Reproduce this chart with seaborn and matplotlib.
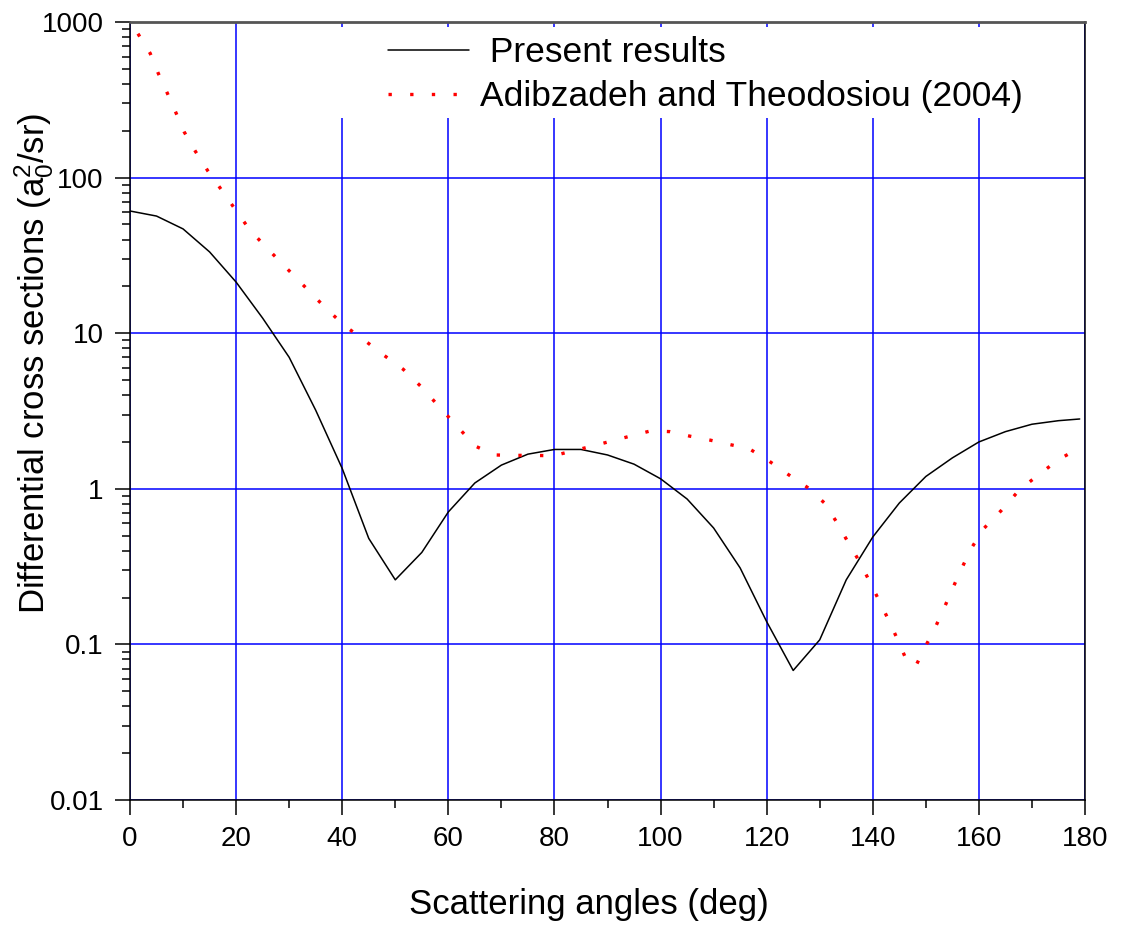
import numpy as np
import pandas as pd
import matplotlib
matplotlib.use("Agg")
import matplotlib.pyplot as plt
import seaborn as sns
from matplotlib.patches import Rectangle
from matplotlib.ticker import FixedLocator, LogLocator, NullFormatter, FixedFormatter

# Present results (every 5 deg)
present_angle = [0, 5, 10, 15, 20, 25, 30, 35, 40, 45, 50, 55, 60, 65, 70, 75, 80, 85,
                 90, 95, 100, 105, 110, 115, 120, 125, 130, 135, 140, 145, 150, 155,
                 160, 165, 170, 175, 179]
present_dcs = [61, 56.6, 46.8, 33.3, 21.3, 12.5, 7.0, 3.2, 1.35, 0.48, 0.26, 0.39, 0.71,
               1.09, 1.42, 1.67, 1.79, 1.79, 1.65, 1.44, 1.16, 0.86, 0.56, 0.31, 0.14,
               0.068, 0.107, 0.26, 0.49, 0.81, 1.2, 1.58, 2.0, 2.33, 2.6, 2.74, 2.81]

# Adibzadeh and Theodosiou (2004)
adib_angle = [1.5, 3.8, 5.3, 7.0, 8.6, 10.2, 12.3, 14.7, 17.4, 19.9, 22.6, 26.0, 29.6,
              33.2, 36.8, 40.4, 44.2, 47.8, 51.5, 55.0, 58.3, 61.7, 65.1, 68.7, 72.3,
              76.0, 79.8, 83.4, 87.1, 90.8, 94.5, 98.2, 101.8, 105.5, 109.2, 112.9,
              116.7, 120.3, 124.0, 127.7, 130.9, 133.2, 135.4, 137.5, 139.4, 141.2,
              143.0, 144.7, 146.3, 148.1, 149.9, 151.8, 153.5, 155.1, 156.8, 158.5,
              160.8, 164.3, 167.7, 171.4, 175.0, 178.7]
adib_dcs = [841, 629, 470, 351, 264, 197, 148, 110, 82, 62, 46, 34.7, 26, 19.5, 14.6,
            11.2, 9.0, 7.24, 5.86, 4.49, 3.36, 2.51, 1.88, 1.65, 1.64, 1.64, 1.63, 1.75,
            1.88, 2.03, 2.19, 2.36, 2.33, 2.18, 2.06, 1.93, 1.81, 1.52, 1.24, 1.02, 0.81,
            0.61, 0.45, 0.34, 0.254, 0.191, 0.143, 0.107, 0.080, 0.0726, 0.0966, 0.129,
            0.173, 0.231, 0.31, 0.41, 0.55, 0.73, 0.99, 1.24, 1.54, 1.81]

x_ticks = [0, 20, 40, 60, 80, 100, 120, 140, 160, 180]
y_ticks = [0.01, 0.1, 1, 10, 100, 1000]
y_tick_labels = ["0.01", "0.1", "1", "10", "100", "1000"]

sns.set_style("white")
plt.rcParams["font.family"] = ["Liberation Sans", "DejaVu Sans"]
plt.rcParams["mathtext.fontset"] = "custom"
plt.rcParams["mathtext.rm"] = "Liberation Sans"
plt.rcParams["mathtext.it"] = "Liberation Sans"
plt.rcParams["text.color"] = "black"
plt.rcParams["axes.labelcolor"] = "black"
plt.rcParams["xtick.color"] = "black"
plt.rcParams["ytick.color"] = "black"

df_present = pd.DataFrame({"angle": present_angle, "dcs": present_dcs})
df_adib = pd.DataFrame({"angle": adib_angle, "dcs": adib_dcs})

fig = plt.figure(figsize=(11.25, 9.26), dpi=100)
ax = fig.add_axes([130 / 1125, 1 - 800 / 926, 955 / 1125, 778 / 926])

sns.lineplot(data=df_present, x="angle", y="dcs", ax=ax, color="black", lw=1.1,
             label=" Present results", zorder=3)
sns.lineplot(data=df_adib, x="angle", y="dcs", ax=ax, color="red", lw=2.4,
             linestyle=(0, (1, 5.5)), label="Adibzadeh and Theodosiou (2004)", zorder=3)

ax.set_yscale("log")
ax.set_xlim(0, 180)
ax.set_ylim(0.01, 1000)

ax.xaxis.set_major_locator(FixedLocator(x_ticks))
ax.xaxis.set_minor_locator(FixedLocator(list(range(10, 180, 20))))
ax.yaxis.set_major_locator(FixedLocator(y_ticks))
ax.yaxis.set_major_formatter(FixedFormatter(y_tick_labels))
ax.yaxis.set_minor_locator(LogLocator(base=10, subs=np.arange(2, 10)))
ax.yaxis.set_minor_formatter(NullFormatter())

ax.tick_params(axis="both", which="major", direction="out", length=11, width=1.1,
               labelsize=20, pad=8, color="black", left=True, bottom=True)
ax.tick_params(axis="both", which="minor", direction="out", length=5.5, width=1.1,
               color="black", left=True, bottom=True)

ax.grid(True, which="major", color="#0000ff", lw=1.1)
ax.set_axisbelow(True)

for side in ["left", "bottom", "right"]:
    ax.spines[side].set_color("black")
    ax.spines[side].set_linewidth(1.1)
ax.spines["top"].set_color("#555555")
ax.spines["top"].set_linewidth(2)

ax.set_xlabel("Scattering angles (deg)", fontsize=25)
ax.set_ylabel("Differential cross sections (a$_0^2$/sr)", fontsize=25)
ax.xaxis.set_label_coords(0.481, -0.113)
ax.yaxis.set_label_coords(-0.077, 0.561)

# white backing behind the legend hides the grid there
ax.add_patch(Rectangle((0.209, 0.877), 0.739, 0.117, transform=ax.transAxes,
                       facecolor="white", edgecolor="none", zorder=1))

ax.legend(loc="upper left", bbox_to_anchor=(0.27, 0.982), frameon=False,
          fontsize=25.5, handlelength=2.3, handletextpad=0.3, borderpad=0,
          borderaxespad=0, labelspacing=0.32)

fig.savefig("out.png", dpi=100)
